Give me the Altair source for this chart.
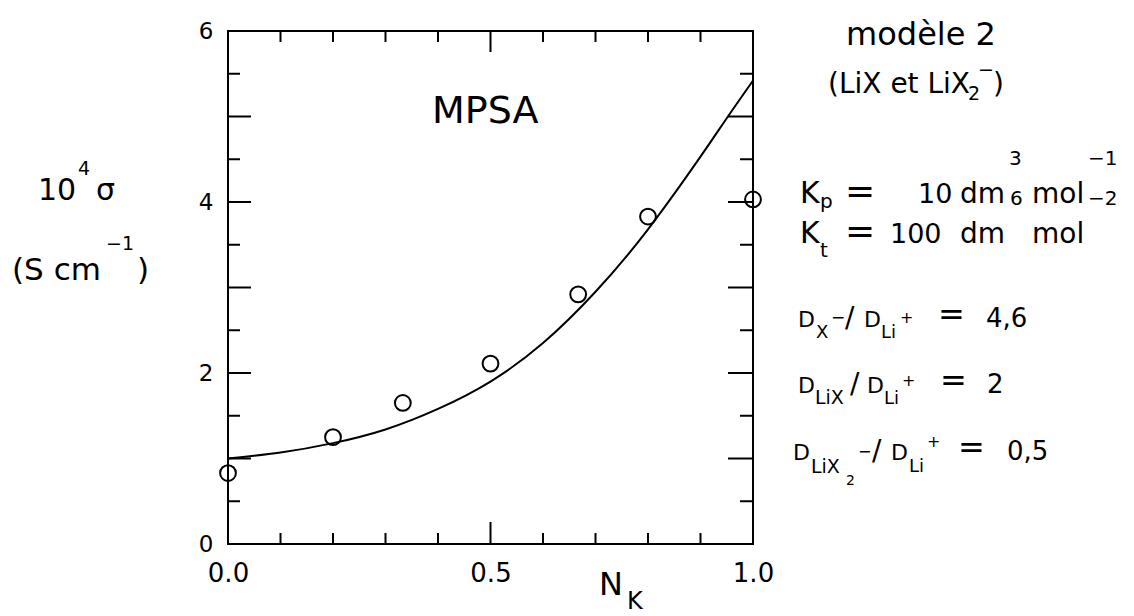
import altair as alt
import pandas as pd

# ---- data ----
N_pts = [0.0, 0.20, 0.333, 0.50, 0.667, 0.80, 1.0]
sigma_pts = [0.83, 1.25, 1.65, 2.11, 2.92, 3.83, 4.03]

N_fit = [0.0, 0.1, 0.2, 0.3, 0.4, 0.5, 0.6, 0.7, 0.8, 0.9, 0.95, 1.0]
sigma_fit = [1.0, 1.07, 1.18, 1.34, 1.58, 1.90, 2.35, 2.95, 3.68, 4.53, 4.98, 5.42]

x_label_vals = [0.0, 0.5, 1.0]
y_label_vals = [0, 2, 4, 6]
x_minor = [0.1, 0.2, 0.3, 0.4, 0.6, 0.7, 0.8, 0.9]
x_major = [0.5]
y_minor = [0.5, 1.5, 2.5, 3.5, 4.5, 5.5]
y_major = [1, 2, 3, 4, 5]

# ---- layout ----
W, H = 525, 513
L, T = 228, 31
FONT = "DejaVu Sans"

# annotation pieces: (text, x, baseline y, size, align) in page pixels
annotations = [
    ("10", 38, 200, 30, "left"), ("4", 78, 175, 19, "left"), ("σ", 96, 200, 30, "left"),
    ("(S cm", 12, 280, 31, "left"), ("−1", 106, 250, 19, "left"), (")", 137, 280, 31, "left"),
    ("N", 599, 595, 32, "left"), ("K", 627, 609, 24, "left"),
    ("MPSA", 432, 123, 38, "left"),
    ("modèle 2", 921, 45, 32, "center"),
    ("(LiX et LiX", 828, 93, 28, "left"), ("2", 968, 100, 19, "left"),
    ("−", 978, 76, 19, "left"), (")", 993, 93, 28, "left"),
    ("K", 800, 203, 30, "left"), ("p", 820, 208, 20, "left"), ("=", 845, 203, 36, "left"),
    ("10", 918, 203, 27, "left"), ("dm", 960, 203, 28, "left"), ("3", 1009, 165, 20, "left"),
    ("mol", 1032, 203, 28, "left"), ("−1", 1088, 165, 20, "left"),
    ("K", 800, 243, 30, "left"), ("t", 820, 257, 20, "left"), ("=", 845, 243, 36, "left"),
    ("100", 890, 243, 27, "left"), ("dm", 960, 243, 28, "left"), ("6", 1010, 205, 20, "left"),
    ("mol", 1032, 243, 28, "left"), ("−2", 1088, 205, 20, "left"),
    ("D", 798, 327, 22, "left"), ("X", 816, 338, 18, "left"), ("−", 831, 323, 17, "left"),
    ("/", 845, 327, 28, "left"), ("D", 864, 327, 22, "left"), ("Li", 881, 338, 18, "left"),
    ("+", 900, 323, 16, "left"), ("=", 938, 325, 32, "left"), ("4,6", 986, 327, 26, "left"),
    ("D", 798, 393, 22, "left"), ("LiX", 815, 404, 19, "left"), ("/", 850, 393, 28, "left"),
    ("D", 867, 393, 22, "left"), ("Li", 884, 404, 18, "left"), ("+", 902, 386, 16, "left"),
    ("=", 940, 391, 32, "left"), ("2", 987, 393, 26, "left"),
    ("D", 793, 460, 22, "left"), ("LiX", 811, 473, 19, "left"), ("2", 846, 485, 14, "left"),
    ("−", 858, 457, 16, "left"), ("/", 872, 460, 28, "left"), ("D", 891, 460, 22, "left"),
    ("Li", 909, 472, 18, "left"), ("+", 927, 447, 16, "left"), ("=", 958, 458, 32, "left"),
    ("0,5", 1007, 460, 26, "left"),
]

xs = alt.Scale(domain=[0, 1], nice=False)
ys = alt.Scale(domain=[0, 6], nice=False)

pts_df = pd.DataFrame({"N": N_pts, "s": sigma_pts})
fit_df = pd.DataFrame({"N": N_fit, "s": sigma_fit})

x_axis = alt.Axis(values=x_label_vals, format=".1f", ticks=False, domain=False, grid=False,
                  labelFontSize=26, labelFont=FONT, labelColor="black", labelPadding=16,
                  title=None, labelFlush=False)
y_axis = alt.Axis(values=y_label_vals, format="d", ticks=False, domain=False, grid=False,
                  labelFontSize=23, labelFont=FONT, labelColor="black", labelPadding=15,
                  title=None)

curve = alt.Chart(fit_df).mark_line(color="black", strokeWidth=2, interpolate="natural", clip=False).encode(
    x=alt.X("N:Q", scale=xs, axis=x_axis),
    y=alt.Y("s:Q", scale=ys, axis=y_axis),
)
points = alt.Chart(pts_df).mark_point(shape="circle", filled=False, color="black", size=250,
                                      strokeWidth=2, opacity=1, clip=False).encode(
    x=alt.X("N:Q", scale=xs),
    y=alt.Y("s:Q", scale=ys),
)

def xticks(vals, y0, y1):
    return alt.Chart(pd.DataFrame({"N": vals})).mark_rule(color="black", strokeWidth=2).encode(
        x=alt.X("N:Q", scale=xs), y=alt.value(y0), y2=alt.value(y1))

def yticks(vals, x0, x1):
    return alt.Chart(pd.DataFrame({"s": vals})).mark_rule(color="black", strokeWidth=2).encode(
        y=alt.Y("s:Q", scale=ys), x=alt.value(x0), x2=alt.value(x1))

ticks = [
    xticks(x_minor, H, H - 11), xticks(x_major, H, H - 22),
    xticks(x_minor, 0, 11), xticks(x_major, 0, 21),
    yticks(y_minor, 0, 12), yticks(y_major, 0, 23),
    yticks(y_minor, W, W - 13), yticks(y_major, W, W - 25),
]

texts = []
for txt, ax, ay, sz, al in annotations:
    texts.append(
        alt.Chart(pd.DataFrame({"t": [txt]})).mark_text(
            font=FONT, fontSize=sz, color="black", align=al, baseline="alphabetic"
        ).encode(x=alt.value(ax - L), y=alt.value(ay - T), text="t:N")
    )

chart = alt.layer(curve, points, *ticks, *texts).properties(
    width=W, height=H,
    autosize=alt.AutoSizeParams(type="none"),
    padding={"left": L, "top": T, "right": 1134 - L - W, "bottom": 616 - T - H},
    background="white",
).configure_view(stroke="black", strokeWidth=2)

chart.save("out.html", embed_options={"renderer": "svg", "actions": False})
